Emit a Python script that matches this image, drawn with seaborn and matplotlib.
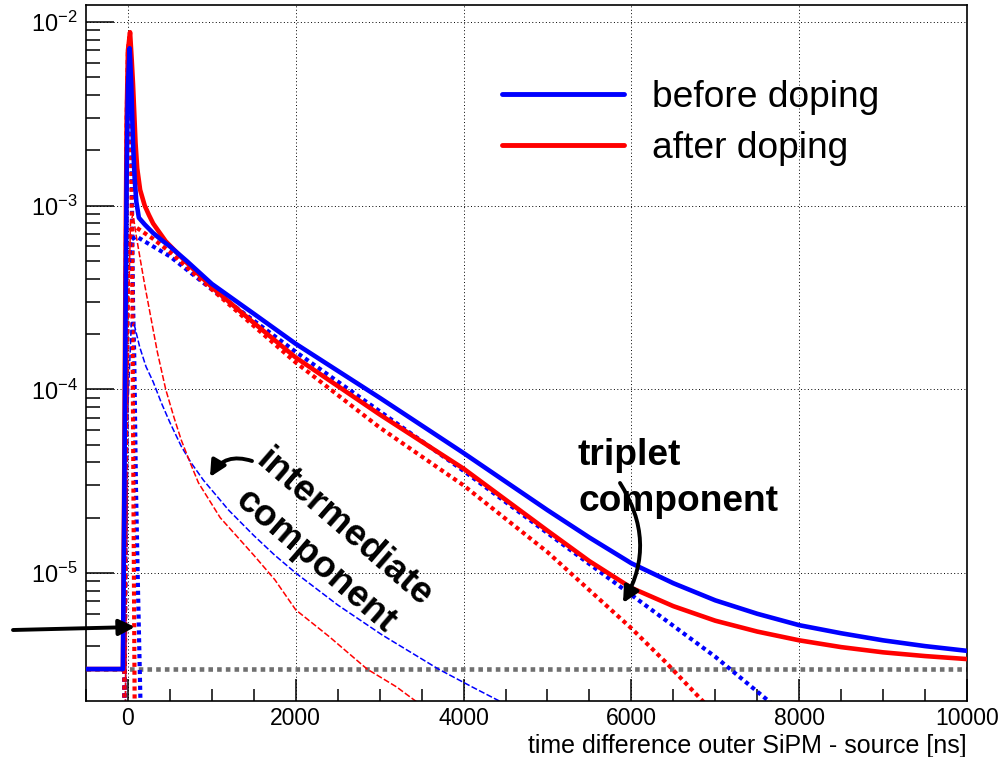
import numpy as np
import matplotlib
matplotlib.use('Agg')
import matplotlib.pyplot as plt
import seaborn as sns
from matplotlib.lines import Line2D
from matplotlib.ticker import MultipleLocator, LogLocator, NullFormatter

# ---------------------------------------------------------------
# values (time in ns, rate per ns)
# ---------------------------------------------------------------
# total fit, before doping (blue solid)
t_before_tot = [-500, -60, -45, -30, -15, 0, 20, 40, 60, 80, 100, 130, 200, 300, 400, 500,
                700, 1000, 1500, 2000, 3000, 4000, 5000, 5500, 6000, 6500, 7000, 7500,
                8000, 8500, 9000, 9500, 10000]
y_before_tot = [3e-6, 3e-6, 2e-5, 2e-4, 1.5e-3, 4.5e-3, 7.2e-3, 4.5e-3, 2.2e-3, 1.4e-3, 1.05e-3,
                8.6e-4, 7.9e-4, 7.1e-4, 6.5e-4, 6.0e-4, 5.0e-4, 3.75e-4, 2.58e-4, 1.77e-4,
                9.0e-5, 4.5e-5, 2.2e-5, 1.56e-5, 1.13e-5, 8.8e-6, 7.1e-6, 6.0e-6,
                5.2e-6, 4.7e-6, 4.3e-6, 4.0e-6, 3.77e-6]

# total fit, after doping (red solid)
t_after_tot = [-500, -60, -45, -30, -15, 0, 25, 45, 60, 75, 90, 110, 145, 200, 250, 300, 450,
               700, 1000, 1500, 2000, 3000, 4000, 5000, 5500, 6000, 6500, 7000, 7500,
               8000, 8500, 9000, 9500, 10000]
y_after_tot = [3e-6, 3e-6, 3e-5, 4e-4, 3e-3, 7e-3, 8.8e-3, 6.2e-3, 4.6e-3, 3.2e-3, 2.2e-3,
               1.6e-3, 1.22e-3, 1.0e-3, 8.9e-4, 8.0e-4, 6.4e-4, 4.9e-4, 3.6e-4, 2.3e-4,
               1.49e-4, 7.3e-5, 3.7e-5, 1.7e-5, 1.16e-5, 8.3e-6, 6.6e-6, 5.5e-6, 4.8e-6,
               4.3e-6, 3.95e-6, 3.7e-6, 3.53e-6, 3.4e-6]

# fast (singlet) components
t_before_fast = [-45, -30, -15, 0, 20, 40, 60, 75, 95, 120, 150]
y_before_fast = [1.9e-6, 1e-4, 1.5e-3, 4.5e-3, 7e-3, 2.5e-3, 3e-4, 1.5e-4, 3e-5, 8e-6, 1.9e-6]
t_after_fast = [-45, -30, -15, 0, 20, 35, 50, 65, 80]
y_after_fast = [1.9e-6, 2e-4, 3e-3, 7e-3, 8.5e-3, 3e-3, 5e-4, 3e-5, 1.9e-6]

# triplet components (thick dotted)
t_before_trip = [-40, -20, 0, 30, 100, 300, 500, 1000, 2000, 3000, 4000, 5000, 6000, 7000, 7700]
y_before_trip = [1.9e-6, 5e-5, 4e-4, 6.5e-4, 6.8e-4, 6.0e-4, 5.3e-4, 3.5e-4, 1.6e-4, 7.6e-5,
                 3.6e-5, 1.65e-5, 7.6e-6, 3.5e-6, 1.9e-6]
t_after_trip = [-40, -20, 0, 30, 100, 300, 500, 1000, 2000, 3000, 4000, 5000, 6000, 6400, 6900]
y_after_trip = [1.9e-6, 6e-5, 5e-4, 7.4e-4, 7.6e-4, 6.6e-4, 5.6e-4, 3.5e-4, 1.4e-4, 6.2e-5,
                3.0e-5, 1.3e-5, 5.0e-6, 3.3e-6, 1.9e-6]

# intermediate components (thin dashed)
t_before_int = [-30, 0, 40, 70, 140, 215, 300, 400, 500, 635, 750, 900, 1200, 1500, 1750,
                2000, 2500, 3030, 3700, 4100, 4530]
y_before_int = [1.9e-6, 8e-5, 2.3e-4, 2.3e-4, 1.7e-4, 1.33e-4, 1.1e-4, 8.4e-5, 6.6e-5, 4.9e-5,
                4.0e-5, 3.2e-5, 2.2e-5, 1.6e-5, 1.25e-5, 1.0e-5, 6.7e-6, 4.6e-6, 3e-6,
                2.4e-6, 1.9e-6]
t_after_int = [-30, 0, 30, 60, 100, 150, 200, 250, 350, 450, 550, 635, 740, 840, 1100, 1500,
               1750, 2000, 2400, 2850, 3200, 3500]
y_after_int = [1.9e-6, 2e-4, 8e-4, 9e-4, 6.8e-4, 5e-4, 3.7e-4, 2.8e-4, 1.6e-4, 1.0e-4, 7e-5,
               5.3e-5, 4e-5, 3.1e-5, 2.0e-5, 1.25e-5, 9.2e-6, 6.3e-6, 4.5e-6, 3e-6, 2.4e-6, 1.9e-6]

# constant background
t_bkg = [-500, 10000]
y_bkg = [3e-6, 3e-6]

legend_labels = ['before doping', 'after doping']
x_ticks = [0, 2000, 4000, 6000, 8000, 10000]

# ---------------------------------------------------------------
sns.set_style('ticks')
plt.rcParams['font.family'] = ['Liberation Sans', 'DejaVu Sans']
plt.rcParams['mathtext.fontset'] = 'custom'
plt.rcParams['mathtext.rm'] = 'Liberation Sans'
for k in ['text.color', 'axes.labelcolor', 'xtick.color', 'ytick.color', 'axes.edgecolor']:
    plt.rcParams[k] = 'black'

W, H = 1002, 757
fig = plt.figure(figsize=(W / 100, H / 100), dpi=100)
ax = fig.add_axes([86 / W, 56 / H, 881 / W, 696 / H])

BLUE, RED = '#0000ff', '#ff0000'
DOT = (0, (1.0, 0.9))
THIN = (0, (4, 1.5))


def draw(x, y, color, lw, ls, z):
    sns.lineplot(x=x, y=y, ax=ax, color=color, lw=lw, linestyle=ls,
                 estimator=None, sort=False, legend=False, zorder=z)


draw(t_bkg, y_bkg, '#707070', 3.3, DOT, 1.5)
draw(t_before_fast, y_before_fast, BLUE, 3.0, DOT, 2)
draw(t_after_fast, y_after_fast, RED, 3.0, DOT, 2)
draw(t_before_trip, y_before_trip, BLUE, 3.0, DOT, 2)
draw(t_after_trip, y_after_trip, RED, 3.0, DOT, 2)
draw(t_before_int, y_before_int, BLUE, 1.1, THIN, 2.5)
draw(t_after_int, y_after_int, RED, 1.1, THIN, 2.5)
draw(t_after_tot, y_after_tot, RED, 3.3, '-', 3)
draw(t_before_tot, y_before_tot, BLUE, 3.3, '-', 3.1)

ax.set_yscale('log')
ax.set_xlim(-500, 10000)
ax.set_ylim(2.01e-6, 1.238e-2)
ax.xaxis.set_major_locator(MultipleLocator(2000))
ax.xaxis.set_minor_locator(MultipleLocator(500))
ax.set_xticks(x_ticks)
ax.yaxis.set_major_locator(LogLocator(base=10))
ax.yaxis.set_minor_locator(LogLocator(base=10, subs=np.arange(2, 10)))
ax.yaxis.set_minor_formatter(NullFormatter())

ax.grid(True, which='major', color='black', linestyle=(0, (1, 2.5)), lw=0.7)
ax.tick_params(axis='both', which='both', direction='in', top=False, right=False,
               color='black', labelcolor='black', width=1.1)
ax.tick_params(axis='y', which='major', length=20.5, labelsize=17, pad=6)
ax.tick_params(axis='y', which='minor', length=10)
ax.tick_params(axis='x', which='major', length=15.8, labelsize=16.5, pad=4)
ax.tick_params(axis='x', which='minor', length=8.5)
for s in ax.spines.values():
    s.set_color('black')
    s.set_linewidth(1.2)

xlab = ax.set_xlabel('time difference outer SiPM - source [ns]', fontsize=18, color='black')
ax.xaxis.set_label_coords(1.0, -52 / 696)
xlab.set_ha('right')
xlab.set_va('baseline')
ax.set_ylabel('')

handles = [Line2D([], [], color=BLUE, lw=3.5), Line2D([], [], color=RED, lw=3.5)]
ax.legend(handles, legend_labels, loc='upper left', bbox_to_anchor=(0.472, 0.892),
          frameon=False, fontsize=26.7, handlelength=3.3, handletextpad=0.75,
          labelspacing=0.42, borderpad=0, borderaxespad=0, labelcolor='black')

# annotations (positions in picture pixels, origin top-left)
def fx(px):
    return px / W


def fy(py):
    return 1 - py / H


ax.text(fx(578), fy(511), 'triplet\ncomponent', transform=fig.transFigure, fontsize=26.7,
        fontweight='bold', ha='left', va='baseline', linespacing=1.4, zorder=5,
        color='black')
ax.text(fx(330), fy(545), 'intermediate\ncomponent', transform=fig.transFigure,
        fontsize=26.7, fontweight='bold', rotation=-41, rotation_mode='anchor',
        ha='center', va='center', multialignment='center', linespacing=1.3, zorder=5,
        color='black')


def arrow(p0, p1, rad):
    ax.annotate('', xy=(p1[0], H - p1[1]), xytext=(p0[0], H - p0[1]),
                xycoords='figure pixels', textcoords='figure pixels',
                arrowprops=dict(arrowstyle='-|>', color='black', lw=2.8,
                                mutation_scale=24, shrinkA=0, shrinkB=0,
                                connectionstyle=f'arc3,rad={rad}'),
                annotation_clip=False, zorder=6)


arrow((252, 461), (210, 477), 0.4)
arrow((620, 483), (623, 603), -0.3)
arrow((13, 630), (135, 627), 0.0)

fig.savefig('out.png', dpi=100)
